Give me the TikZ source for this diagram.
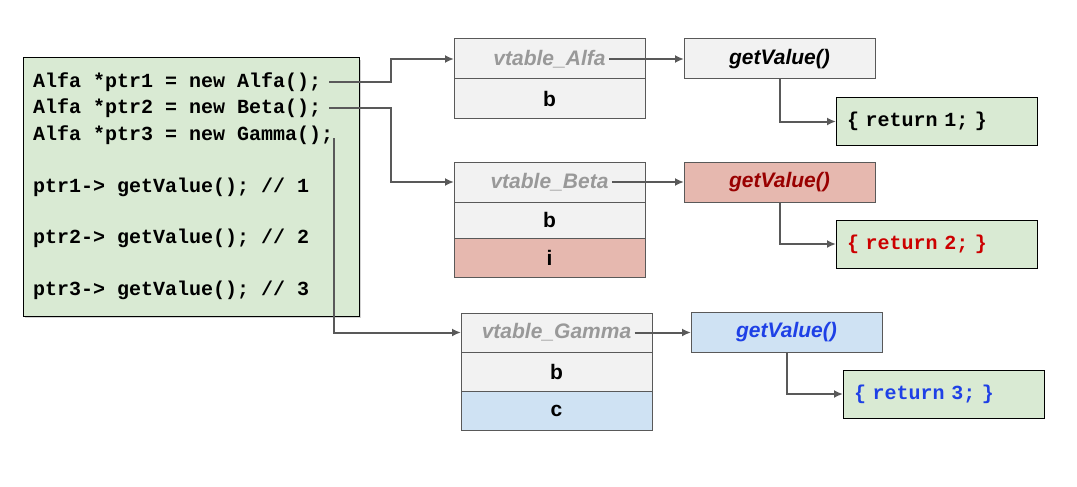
\documentclass[tikz,border=0pt]{standalone}
\usepackage{fontspec}
\setmainfont{Liberation Sans}
\setsansfont{Liberation Sans}
\setmonofont{Liberation Mono}
\usepackage{tikz}
\usetikzlibrary{positioning, shadows, arrows.meta}
\usepackage{xcolor}
\definecolor{xgreen}{HTML}{D9EAD3}
\definecolor{xgrey}{HTML}{F2F2F2}
\definecolor{xpink}{HTML}{E6B8AF}
\definecolor{xblue}{HTML}{CFE2F3}
\definecolor{xline}{HTML}{595959}
\definecolor{xtitle}{HTML}{999999}
\definecolor{xdarkred}{HTML}{990000}
\definecolor{xred}{HTML}{CC0000}
\definecolor{xbluetext}{HTML}{1E40E6}
\tikzset{
	arrow/.style={line width=2pt, draw=xline, ->, >={Latex[length=9pt, width=8pt]}},
	cell/.style={draw=xline, line width=1pt, fill=xgrey, minimum width=191pt, inner sep=0pt, outer sep=0pt, font=\sffamily\bfseries\fontsize{21}{25}\selectfont},
	vname/.style={text=xtitle, font=\sffamily\bfseries\itshape\fontsize{21}{25}\selectfont},
	method/.style={cell, minimum height=40pt, font=\sffamily\bfseries\itshape\fontsize{21}{25}\selectfont},
	retbox/.style={draw=black, line width=1pt, fill=xgreen, text width=179pt, inner xsep=11pt, minimum height=48pt, align=left, outer sep=0pt, font=\ttfamily\bfseries\fontsize{20}{24}\selectfont},
	codebox/.style={draw=black, line width=1pt, fill=xgreen, minimum width=336pt, minimum height=258pt, drop shadow={shadow xshift=2pt, shadow yshift=-2pt, opacity=0.35}},
	code/.style={anchor=west, inner sep=0pt, font=\ttfamily\bfseries\fontsize{20}{24}\selectfont},
}

\begin{document}
\begin{tikzpicture}[x=1pt, y=-1pt]
	\useasboundingbox (0,0) rectangle (1077,487);
% Code
		\node[codebox] (code) at (191,187) {};
		\node[code] (l1) at (33,82) {Alfa *ptr1 = new Alfa();};
		\node[code] (l2) at (33,108) {Alfa *ptr2 = new Beta();};
		\node[code] (l3) at (33,135) {Alfa *ptr3 = new Gamma();};
		\node[code] (l4) at (33,187) {ptr1-> getValue(); // 1};
		\node[code] (l5) at (33,238) {ptr2-> getValue(); // 2};
		\node[code] (l6) at (33,290) {ptr3-> getValue(); // 3};

% Alfa
		\node[cell, minimum height=40pt] (vtA) at (549.5,59) {};
		\node[vname] (vtAname) at (vtA) {vtable\_Alfa};
		\node[cell, minimum height=39pt, below=0pt of vtA] (bA) {b};
		\node[method] (getA) at (779.5,59) {getValue()};
		\node[retbox] (ret1) at (936.5,121.5) {\{ return 1; \}};

		\draw[arrow] ([xshift=8pt]l1.east) -| ([xshift=-63pt]vtA.west) |- (vtA.west);
		\draw[arrow] (vtAname.east) -- (getA.west);
		\draw[arrow] (getA.south) |- (ret1.west);

% Beta
		\node[cell, minimum height=40pt] (vtB) at (549.5,182) {};
		\node[vname] (vtBname) at (vtB) {vtable\_Beta};
		\node[cell, minimum height=36pt, below=0pt of vtB] (bB) {b};
		\node[cell, minimum height=39pt, fill=xpink, below=0pt of bB] (iB) {i};
		\node[method, fill=xpink, text=xdarkred] (getB) at (779.5,182) {getValue()};
		\node[retbox, text=xred] (ret2) at (936.5,244) {\{ return 2; \}};

		\draw[arrow] ([xshift=8pt]l2.east) -| ([xshift=-63pt]vtB.west) |- (vtB.west);
		\draw[arrow] (vtBname.east) -- (getB.west);
		\draw[arrow] (getB.south) |- (ret2.west);

% Gamma
		\node[cell, minimum height=39pt] (vtG) at (556.5,332.5) {};
		\node[vname] (vtGname) at (vtG) {vtable\_Gamma};
		\node[cell, minimum height=39pt, below=0pt of vtG] (bG) {b};
		\node[cell, minimum height=39pt, fill=xblue, below=0pt of bG] (cG) {c};
		\node[method, fill=xblue, text=xbluetext] (getG) at (786.5,332.5) {getValue()};
		\node[retbox, text=xbluetext] (ret3) at (943.5,394) {\{ return 3; \}};

		\draw[arrow] ([xshift=1pt, yshift=-3pt]l3.east) |- (vtG.west);
		\draw[arrow] (vtGname.east) -- (getG.west);
		\draw[arrow] (getG.south) |- (ret3.west);
\end{tikzpicture}
\end{document}
